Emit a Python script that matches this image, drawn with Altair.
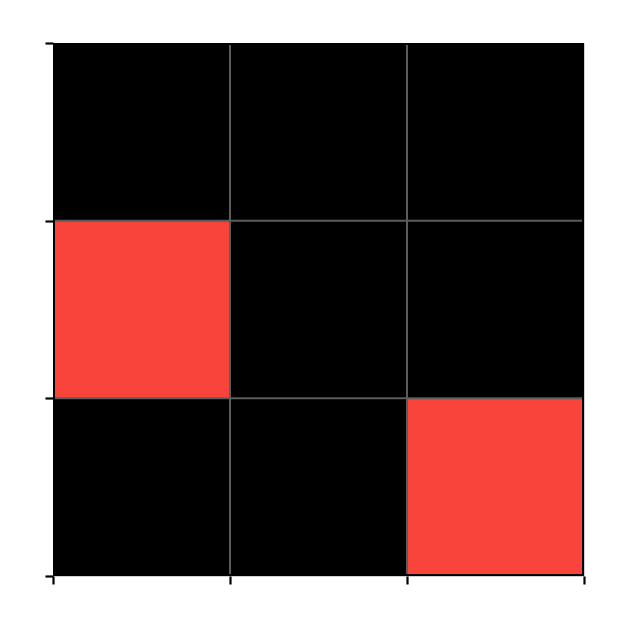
import altair as alt
import pandas as pd

cols = [0, 1, 2, 0, 1, 2, 0, 1, 2]
rows = [2, 2, 2, 1, 1, 1, 0, 0, 0]  # counted from bottom
values = [0, 0, 0, 1, 0, 0, 0, 0, 1]
tick_values = [0, 1, 2, 3]
grid_values = [1, 2]

cells = pd.DataFrame({
    "x": cols,
    "x2": [c + 1 for c in cols],
    "y": rows,
    "y2": [r + 1 for r in rows],
    "v": values,
})
grid = pd.DataFrame({"g": grid_values})
frame = pd.DataFrame({"x": [0], "x2": [3], "y": [0], "y2": [3]})

xscale = alt.Scale(domain=[0, 3], nice=False, zero=False)
yscale = alt.Scale(domain=[0, 3], nice=False, zero=False)
axis = alt.Axis(values=tick_values, labels=False, title=None, grid=False,
                tickColor="black", tickWidth=2.2, tickSize=8, domain=False)

rects = alt.Chart(cells).mark_rect(strokeWidth=0).encode(
    x=alt.X("x:Q", scale=xscale, axis=axis),
    x2="x2:Q",
    y=alt.Y("y:Q", scale=yscale, axis=axis),
    y2="y2:Q",
    color=alt.Color("v:N", scale=alt.Scale(domain=[0, 1], range=["#000000", "#f9443b"]),
                    legend=None),
)

vgrid = alt.Chart(grid).mark_rule(color="#5c5c5c", strokeWidth=2).encode(
    x=alt.X("g:Q", scale=xscale))
hgrid = alt.Chart(grid).mark_rule(color="#5c5c5c", strokeWidth=2).encode(
    y=alt.Y("g:Q", scale=yscale))

border = alt.Chart(frame).mark_rect(fill=None, fillOpacity=0, stroke="black",
                                     strokeWidth=4, clip=True).encode(
    x=alt.X("x:Q", scale=xscale), x2="x2:Q",
    y=alt.Y("y:Q", scale=yscale), y2="y2:Q",
)

chart = alt.layer(rects, vgrid, hgrid, border).properties(
    width=531, height=533,
    padding={"left": 45, "top": 35, "right": 10, "bottom": 10},
    autosize=alt.AutoSizeParams(type="none"),
).configure_view(stroke="#d0d0d0", strokeWidth=1)

chart.save("out.html", embed_options={"renderer": "svg", "actions": False})
